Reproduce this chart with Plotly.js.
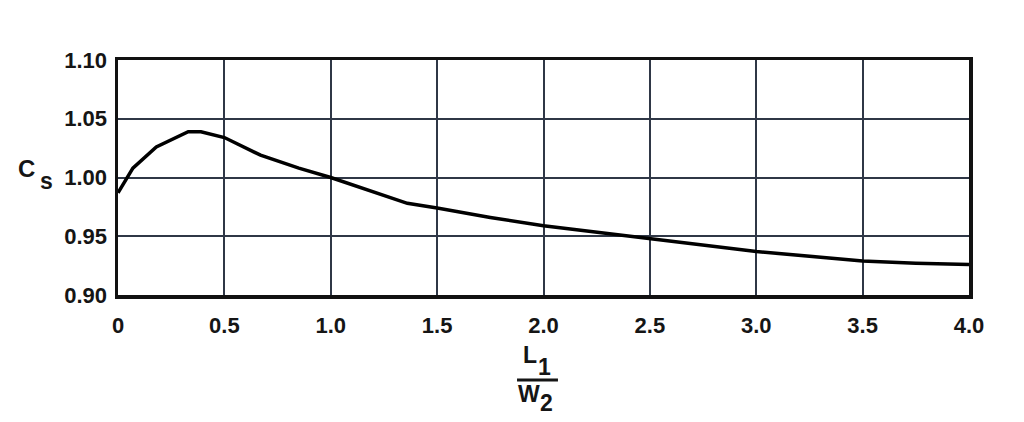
<!DOCTYPE html>
<html>
<head>
<meta charset="utf-8">
<script src="https://cdn.plot.ly/plotly-3.0.1.min.js"></script>
<style>html,body{margin:0;padding:0;background:#fff;}#chart{width:1024px;height:422px;}</style>
</head>
<body>
<div id="chart"></div>
<script>
var ratioL1W2 = [0, 0.07, 0.18, 0.33, 0.39, 0.5, 0.67, 0.85, 1.0, 1.2, 1.36, 1.5, 1.75, 2.0, 2.5, 3.0, 3.5, 3.75, 4.0];
var csValues  = [0.987, 1.008, 1.026, 1.039, 1.039, 1.034, 1.019, 1.008, 1.000, 0.988, 0.978, 0.974, 0.966, 0.959, 0.948, 0.937, 0.929, 0.927, 0.926];
var xTickVals = [0, 0.5, 1.0, 1.5, 2.0, 2.5, 3.0, 3.5, 4.0];
var xTickText = ["0", "0.5", "1.0", "1.5", "2.0", "2.5", "3.0", "3.5", "4.0"];
var yTickVals = [0.90, 0.95, 1.00, 1.05, 1.10];
var yTickText = ["0.90", "0.95", "1.00", "1.05", "1.10"];

var fontFam = "Liberation Sans, Arial, sans-serif";
var gridCol = "#2f3746";
var textCol = "#151515";

var trace = {
  x: ratioL1W2, y: csValues, type: "scatter", mode: "lines",
  line: {color: "#000", width: 3.5, shape: "linear"},
  hoverinfo: "skip"
};

function ann(text, x, y, size) {
  return {text: "<b>" + text + "</b>", xref: "paper", yref: "paper", x: x, y: y,
    xanchor: "center", yanchor: "middle", showarrow: false,
    font: {family: fontFam, size: size, color: textCol}};
}

var layout = {
  width: 1024, height: 422,
  margin: {l: 118, r: 55, t: 60, b: 127},
  paper_bgcolor: "#fff", plot_bgcolor: "#fff",
  showlegend: false,
  xaxis: {
    range: [0, 4], tickvals: xTickVals, ticktext: xTickText,
    showgrid: true, gridcolor: gridCol, gridwidth: 2,
    zeroline: false, showline: true, linecolor: "#111", linewidth: 3.5, mirror: true,
    ticks: "", ticklabelstandoff: 8,
    tickfont: {family: fontFam, size: 22, color: textCol, weight: "bold"},
    fixedrange: true
  },
  yaxis: {
    range: [0.9, 1.1], tickvals: yTickVals, ticktext: yTickText,
    showgrid: true, gridcolor: gridCol, gridwidth: 2,
    zeroline: false, showline: true, linecolor: "#111", linewidth: 3.5, mirror: true,
    ticks: "", ticklabelstandoff: 3,
    tickfont: {family: fontFam, size: 22, color: textCol, weight: "bold"},
    fixedrange: true
  },
  annotations: [
    ann("C", -0.1081, 0.5404, 24),
    ann("s", -0.0846, 0.4851, 23),
    ann("L", 0.4841, -0.2553, 23),
    ann("1", 0.5006, -0.3064, 23),
    ann("W", 0.4830, -0.4213, 23),
    ann("2", 0.5041, -0.4596, 23)
  ],
  shapes: [
    {type: "line", xref: "paper", yref: "paper", x0: 0.4689, x1: 0.5170, y0: -0.3617, y1: -0.3617,
     line: {color: textCol, width: 3}}
  ]
};

Plotly.newPlot("chart", [trace], layout, {displayModeBar: false, staticPlot: true});
</script>
</body>
</html>
